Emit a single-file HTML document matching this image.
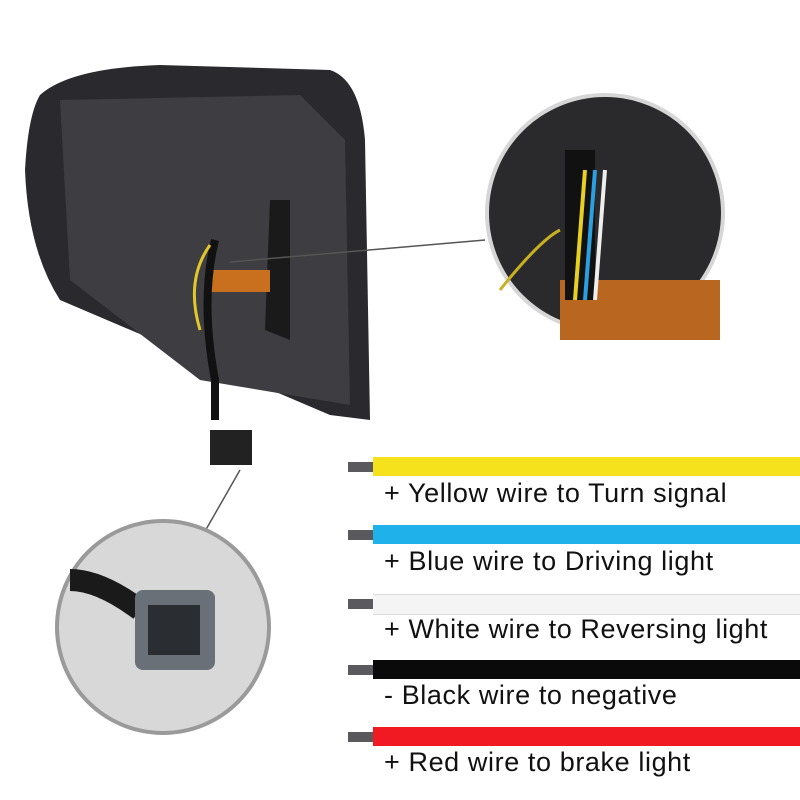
<!DOCTYPE html>
<html><head><style>
body{margin:0;width:800px;height:800px;background:#fff;position:relative;overflow:hidden;font-family:"Liberation Sans",sans-serif}
.w{position:absolute;left:373px;width:427px;height:19px}
.s{position:absolute;left:348px;width:25px;height:10px;background:#5a5a5e}
.t{position:absolute;left:384px;font-size:27px;letter-spacing:0.6px;color:#111;white-space:nowrap}
</style></head><body>
<svg width="800" height="800" style="position:absolute;left:0;top:0">
<path d="M40,95 Q70,68 160,65 L330,70 Q360,80 365,140 L370,420 L330,415 L60,300 Q28,250 25,170 Q28,115 40,95Z" fill="#2a2a2e"/>
<path d="M60,100 L300,95 L345,140 L350,405 L200,380 L70,280 Z" fill="#3d3d42"/>
<path d="M270,200 L290,200 L290,340 L265,330Z" fill="#1a1a1a"/>
<rect x="210" y="270" width="60" height="22" fill="#c8701e"/>
<path d="M215,240 Q200,300 215,380 L215,420" stroke="#111" stroke-width="8" fill="none"/>
<path d="M210,245 Q185,280 200,330" stroke="#e2c82a" stroke-width="3" fill="none"/>
<rect x="210" y="430" width="42" height="35" fill="#222"/>
<line x1="240" y1="470" x2="200" y2="540" stroke="#555" stroke-width="1.5"/>
<line x1="230" y1="262" x2="485" y2="240" stroke="#555" stroke-width="1.5"/>
<circle cx="605" cy="213" r="120" fill="#d6d6d6"/>
<circle cx="605" cy="213" r="116" fill="#2a2a2c"/>
<rect x="560" y="280" width="160" height="60" fill="#b86620"/>
<path d="M580,150 L580,300" stroke="#111" stroke-width="30"/>
<path d="M585,170 L575,300" stroke="#e8d020" stroke-width="4"/>
<path d="M595,170 L585,300" stroke="#2aa0e0" stroke-width="4"/>
<path d="M605,170 L595,300" stroke="#eee" stroke-width="4"/>
<path d="M500,290 Q540,240 560,230" stroke="#c8b020" stroke-width="3" fill="none"/>
<circle cx="163" cy="627" r="108" fill="#9a9a9a"/>
<circle cx="163" cy="627" r="104" fill="#d8d8d8"/>
<path d="M70,580 Q100,580 140,610" stroke="#1a1a1a" stroke-width="22" fill="none"/>
<rect x="135" y="590" width="80" height="80" rx="8" fill="#6a7078"/>
<rect x="148" y="605" width="52" height="50" fill="#2a2e33"/>
</svg>
<div class="s" style="top:462px"></div><div class="w" style="top:457px;background:#f5e11c"></div>
<div class="t" style="top:478px">+ Yellow wire to Turn signal</div>
<div class="s" style="top:530px"></div><div class="w" style="top:525px;background:#1fb1ea"></div>
<div class="t" style="top:546px">+ Blue wire to Driving light</div>
<div class="s" style="top:599px"></div><div class="w" style="top:594px;background:#f4f4f4;border-top:1px solid #ddd;border-bottom:1px solid #ddd"></div>
<div class="t" style="top:614px">+ White wire to Reversing light</div>
<div class="s" style="top:665px"></div><div class="w" style="top:660px;background:#0a0a0a"></div>
<div class="t" style="top:680px">- Black wire to negative</div>
<div class="s" style="top:732px"></div><div class="w" style="top:727px;background:#f21a22"></div>
<div class="t" style="top:747px">+ Red wire to brake light</div>
</body></html>
